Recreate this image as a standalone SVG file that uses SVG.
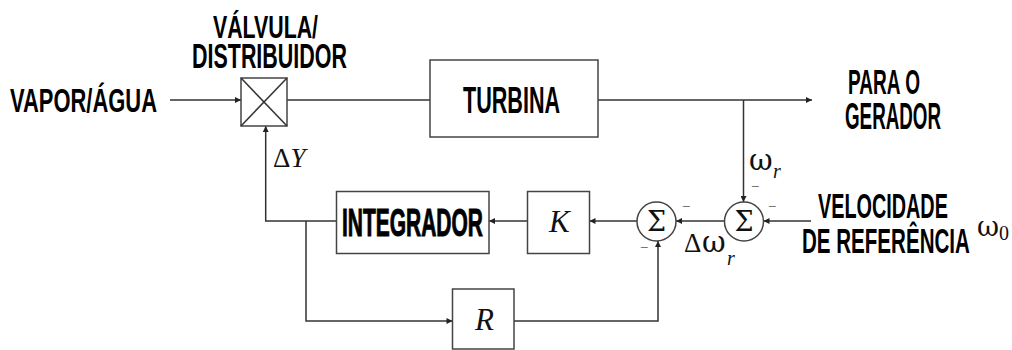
<svg xmlns="http://www.w3.org/2000/svg" width="1012" height="350" viewBox="0 0 1012 350">
<defs>
<style>
.ln{fill:none;stroke:#333;stroke-width:1.5}
.bx{fill:#fff;stroke:#444;stroke-width:1.5}
.lbl{font-family:"Liberation Sans","DejaVu Sans",sans-serif;font-weight:bold;fill:#000}
.math{font-family:"Liberation Serif","DejaVu Serif",serif;fill:#111}
.gr{font-family:"DejaVu Serif","Liberation Serif",serif;fill:#111}
.it{font-style:italic}
.minus{font-family:"Liberation Sans",sans-serif;fill:#777;font-size:14px}
</style>
<marker id="ah" viewBox="0 0 10 10" refX="10" refY="5" markerWidth="9" markerHeight="6" markerUnits="userSpaceOnUse" orient="auto">
<path d="M0,0 L10,5 L0,10 z" fill="#222"/>
</marker>
</defs>
<rect width="1012" height="350" fill="#fff"/>

<g id="labels">
<text class="lbl" transform="translate(10,112) scale(0.639,1)" font-size="34" textLength="230" lengthAdjust="spacingAndGlyphs">VAPOR/ÁGUA</text>
<text class="lbl" transform="translate(213,38) scale(0.656,1)" font-size="32" textLength="160" lengthAdjust="spacingAndGlyphs">VÁLVULA/</text>
<text class="lbl" transform="translate(192,68) scale(0.615,1)" font-size="35" textLength="252" lengthAdjust="spacingAndGlyphs">DISTRIBUIDOR</text>
<text class="lbl" transform="translate(848,94) scale(0.514,1)" font-size="36" textLength="140" lengthAdjust="spacingAndGlyphs">PARA O</text>
<text class="lbl" transform="translate(845,129) scale(0.508,1)" font-size="37" textLength="189" lengthAdjust="spacingAndGlyphs">GERADOR</text>
<text class="lbl" transform="translate(818,218) scale(0.566,1)" font-size="35" textLength="229.5" lengthAdjust="spacingAndGlyphs">VELOCIDADE</text>
<text class="lbl" transform="translate(802,253) scale(0.589,1)" font-size="35" textLength="285" lengthAdjust="spacingAndGlyphs">DE REFERÊNCIA</text>
<text class="gr" x="977" y="236" font-size="27">ω</text>
<text class="math" x="999" y="240" font-size="20">0</text>
<text class="math" x="273" y="167" font-size="27">Δ<tspan class="it">Y</tspan></text>
<text class="gr" x="749" y="170" font-size="29">ω</text>
<text class="math it" x="773" y="178" font-size="20">r</text>
<text class="math" x="684" y="252" font-size="27">Δ</text>
<text class="gr" x="702" y="252" font-size="29">ω</text>
<text class="math it" x="727" y="265" font-size="20">r</text>
<text class="minus" x="682" y="211">−</text>
<text class="minus" x="640" y="252">−</text>
<text class="minus" x="768" y="211">−</text>
<text class="minus" x="751" y="191" font-size="9">−</text>
</g>

<g id="connectors">
<line class="ln" x1="170" y1="100" x2="241" y2="100" marker-end="url(#ah)"/>
<line class="ln" x1="287" y1="100" x2="430" y2="100"/>
<line class="ln" x1="598" y1="100" x2="812" y2="100" marker-end="url(#ah)"/>
<line class="ln" x1="743.5" y1="100" x2="743.5" y2="202" marker-end="url(#ah)"/>
<line class="ln" x1="811" y1="221" x2="763.5" y2="221" marker-end="url(#ah)"/>
<line class="ln" x1="725" y1="221" x2="676" y2="221" marker-end="url(#ah)"/>
<line class="ln" x1="637" y1="221" x2="589.5" y2="221" marker-end="url(#ah)"/>
<line class="ln" x1="527.5" y1="221" x2="489" y2="221" marker-end="url(#ah)"/>
<polyline class="ln" points="336.5,221 265.7,221 265.7,126" marker-end="url(#ah)"/>
<polyline class="ln" points="306,221 306,321 452.5,321" marker-end="url(#ah)"/>
<polyline class="ln" points="514,321 658,321 658,241" marker-end="url(#ah)"/>
</g>

<g id="valve">
<rect class="bx" x="241" y="78" width="46" height="48"/>
<line class="ln" x1="241" y1="78" x2="287" y2="126"/>
<line class="ln" x1="287" y1="78" x2="241" y2="126"/>
</g>

<g id="turbina">
<rect class="bx" x="430" y="60" width="168" height="77"/>
<text class="lbl" transform="translate(463,113) scale(0.583,1)" font-size="37" textLength="166.5" lengthAdjust="spacingAndGlyphs">TURBINA</text>
</g>

<g id="integrador">
<rect class="bx" x="336.5" y="191.5" width="152.5" height="62"/>
<text class="lbl" transform="translate(342,236) scale(0.552,1)" font-size="38" textLength="255.4" lengthAdjust="spacingAndGlyphs" stroke="#000" stroke-width="1">INTEGRADOR</text>
</g>

<g id="k">
<rect class="bx" x="527.5" y="191.5" width="62" height="62"/>
<text class="math it" x="549" y="232" font-size="31">K</text>
</g>

<g id="r">
<rect class="bx" x="452.5" y="289" width="61.5" height="60"/>
<text class="math it" x="475" y="330" font-size="31">R</text>
</g>

<g id="sum1">
<circle class="bx" cx="656.5" cy="221.5" r="19.5"/>
<text class="gr" x="656.5" y="231" font-size="27" text-anchor="middle">Σ</text>
</g>

<g id="sum2">
<circle class="bx" cx="744" cy="221.5" r="19.5"/>
<text class="gr" x="744" y="231" font-size="27" text-anchor="middle">Σ</text>
</g>
</svg>
